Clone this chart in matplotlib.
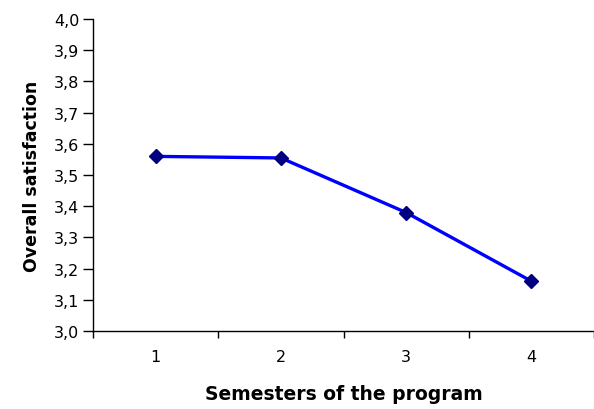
import numpy as np
import matplotlib.pyplot as plt

plt.rcParams['font.family'] = ['DejaVu Sans']

# Data
semesters = [1, 2, 3, 4]
satisfaction = [3.56, 3.555, 3.38, 3.16]
y_ticks = [3.0, 3.1, 3.2, 3.3, 3.4, 3.5, 3.6, 3.7, 3.8, 3.9, 4.0]
y_tick_labels = ['3,0', '3,1', '3,2', '3,3', '3,4', '3,5', '3,6', '3,7', '3,8', '3,9', '4,0']

fig = plt.figure(figsize=(5.94, 4.10), dpi=100)
ax = fig.add_axes([0.1566, 0.19, 0.8434, 0.761])

ax.plot(semesters, satisfaction, color='#0000FF', linewidth=2.4,
        marker='D', markersize=7.5, markerfacecolor='#000080',
        markeredgecolor='#000080', clip_on=False, zorder=3)

ax.set_ylim(3.0, 4.0)
ax.set_yticks(y_ticks)
ax.set_yticklabels(y_tick_labels)

# category boundaries as major ticks, category labels on minor ticks
ax.set_xlim(0.5, 4.5)
ax.set_xticks([0.5, 1.5, 2.5, 3.5, 4.5])
ax.set_xticklabels([])
ax.set_xticks(semesters, minor=True)
ax.set_xticklabels([str(s) for s in semesters], minor=True)
ax.tick_params(axis='both', which='both', labelsize=11.5, colors='black')
ax.tick_params(axis='x', which='minor', length=0, pad=13)
ax.tick_params(axis='x', which='major', length=5, width=1, direction='out')
ax.tick_params(axis='y', length=7, width=1, direction='out', pad=3)

for side in ['top', 'right']:
    ax.spines[side].set_visible(False)
for side in ['left', 'bottom']:
    ax.spines[side].set_linewidth(1)

ax.set_xlabel('Semesters of the program', fontsize=13.5, fontweight='bold', labelpad=14)
ax.set_ylabel('Overall satisfaction', fontsize=12.5, fontweight='bold', labelpad=9)

fig.savefig('out.png', dpi=100)
